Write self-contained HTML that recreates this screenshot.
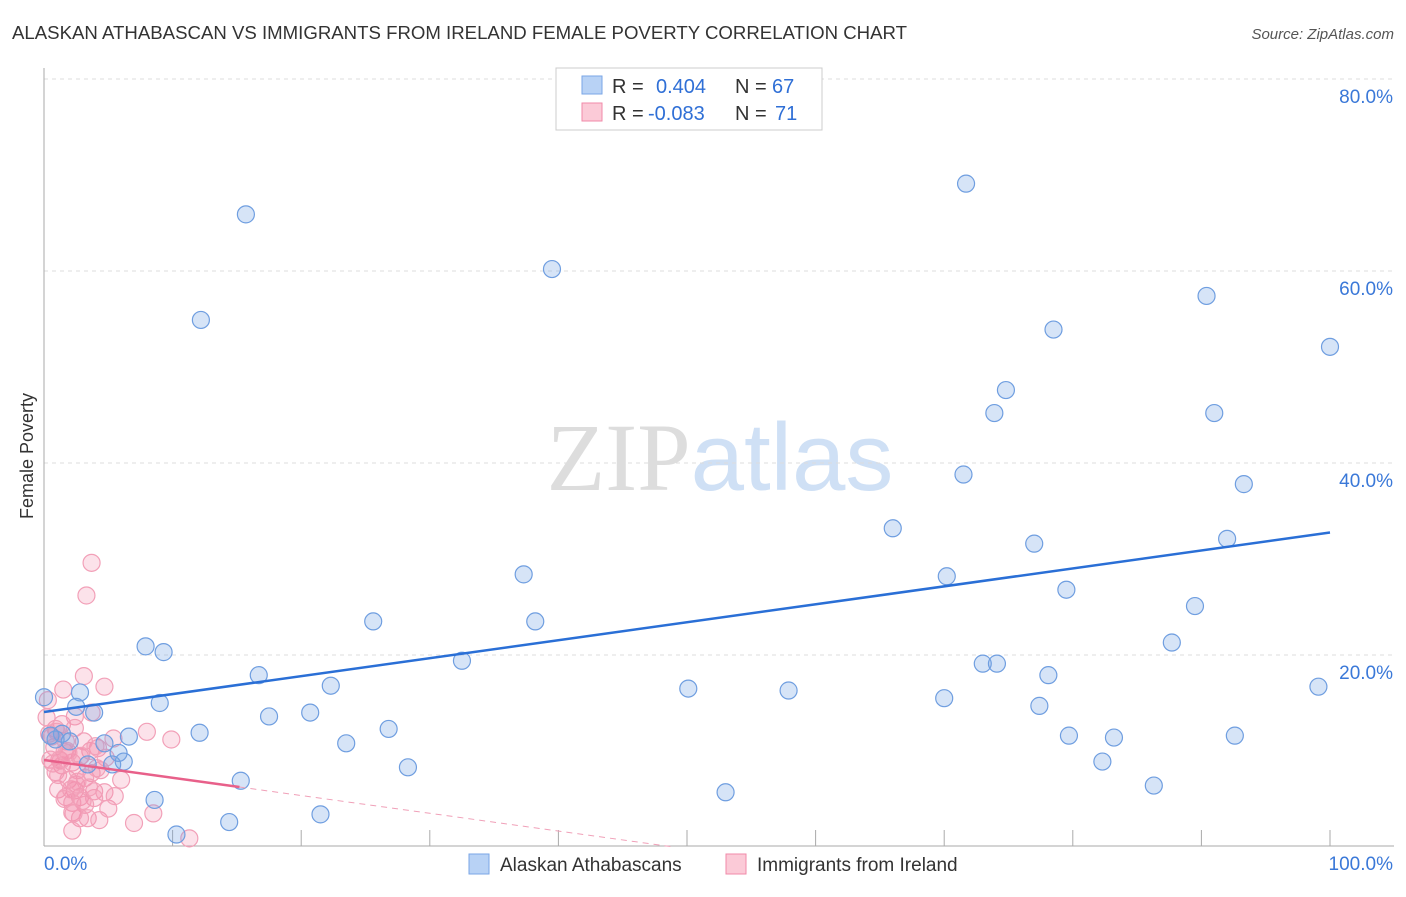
<!DOCTYPE html>
<html><head><meta charset="utf-8"><style>
body{margin:0;background:#fff;font-family:"Liberation Sans",sans-serif}
svg text{font-family:"Liberation Sans",sans-serif}
</style></head><body>
<svg id="chart" width="1406" height="892">
<text x="12" y="39" font-size="18" fill="#333" textLength="895" lengthAdjust="spacingAndGlyphs">ALASKAN ATHABASCAN VS IMMIGRANTS FROM IRELAND FEMALE POVERTY CORRELATION CHART</text>
<text x="1394" y="39" font-size="15" fill="#555" font-style="italic" text-anchor="end">Source: ZipAtlas.com</text>
<text x="33" y="456" font-size="18" fill="#333" transform="rotate(-90 33 456)" text-anchor="middle">Female Poverty</text>
<text x="720" y="490" font-size="96" text-anchor="middle"><tspan fill="#ddd" font-family="Liberation Serif">ZIP</tspan><tspan fill="#cfe0f5">atlas</tspan></text>
<g id="grid"></g><g id="marks"></g>
<g>
<rect x="556" y="68" width="266" height="62" fill="#fff" stroke="#ccc"/>
<rect x="582" y="76" width="20" height="18" fill="#b8d2f5" stroke="#7aa6e6"/>
<rect x="582" y="103" width="20" height="18" fill="#fbcad7" stroke="#f08aa8"/>
<text y="93" font-size="20" fill="#333"><tspan x="612">R =</tspan><tspan x="656" fill="#2f6fd6">0.404</tspan><tspan x="735">N =</tspan><tspan x="772" fill="#2f6fd6">67</tspan></text>
<text y="120" font-size="20" fill="#333"><tspan x="612">R =</tspan><tspan x="648" fill="#2f6fd6">-0.083</tspan><tspan x="735">N =</tspan><tspan x="775" fill="#2f6fd6">71</tspan></text>
</g>
<g>
<rect x="469" y="854" width="20" height="20" fill="#b8d2f5" stroke="#7aa6e6"/>
<text x="500" y="871" font-size="19" fill="#333">Alaskan Athabascans</text>
<rect x="726" y="854" width="20" height="20" fill="#fbcad7" stroke="#f08aa8"/>
<text x="757" y="871" font-size="19" fill="#333">Immigrants from Ireland</text>
</g>
</svg>
<script>
const xTicks=[0,100];
const yTicks=[20,40,60,80];
const blueX=[15.7,71.7,12.2,39.5,90.4,78.5,100,74.8,73.9,91,71.5,93.3,66,77,92,37.3,70.2,79.5,89.5,25.6,38.2,87.7,7.9,9.3,73,74.1,32.5,16.7,78.1,22.3,50.1,57.9,99.1,2.8,0,9,70,77.4,2.5,3.9,17.5,20.7,12.1,26.8,79.7,83.2,92.6,6.6,1.4,23.5,4.7,5.8,3.4,5.3,6.2,82.3,28.3,15.3,8.6,86.3,53,21.5,14.4,10.3,0.9,2,0.5];
const blueY=[65.9,69.1,54.9,60.2,57.4,53.9,52.1,47.6,45.2,45.2,38.8,37.8,33.2,31.6,32.1,28.4,28.2,26.8,25.1,23.5,23.5,21.3,20.9,20.3,19.1,19.1,19.4,17.9,17.9,16.8,16.5,16.3,16.7,16.1,15.6,15,15.5,14.7,14.6,14,13.6,14,11.9,12.3,11.6,11.4,11.6,11.5,11.8,10.8,10.8,9.8,8.6,8.6,8.9,8.9,8.3,6.9,4.9,6.4,5.7,3.4,2.6,1.3,11.2,11,11.6];
const pinkX=[3.7,3.3,3.1,4.7,1.5,0.3,3.7,2.4,1.4,2.4,0.9,5.4,4.2,9.9,3.6,0.8,1.6,2.8,0.5,1.2,4.8,2.2,3.7,3.2,1.9,1.1,2.4,3.9,4.7,1.7,2.8,3.9,2.2,3.2,8.5,2.2,3.4,2.8,4.3,2.2,11.3,1.4,2.6,0.9,4.4,1.7,0.6,1,3.1,0.2,2.1,2.5,1.6,5,8,6,1.8,2.9,4,1.3,0.7,3.5,5.5,2.6,1.9,4.1,3,2.3,1.1,0.4,7];
const pinkY=[29.6,26.2,17.8,16.7,16.4,15.3,14.0,13.6,12.8,12.4,12.3,11.3,10.3,11.2,10.0,10.4,9.9,9.4,9.1,9.1,9.3,8.8,7.7,7.2,7.0,6.0,5.9,5.8,5.7,5.2,5.2,5.1,4.6,4.4,3.5,3.6,3.0,3.0,2.8,1.7,0.9,8.5,8.0,7.8,8.0,11.0,11.5,12.0,11.0,13.5,6.0,6.5,5.0,4.0,12.0,7.0,10.0,9.5,10.5,9.0,8.7,6.2,5.3,6.8,9.8,8.2,4.8,3.5,7.5,11.8,2.5];
const blueTrend=[14.06,0.187];
const pinkTrend=[9.06,-0.185];
const X0=44,X1=1330,Y0=847,YPX=9.6;
const sx=v=>X0+(X1-X0)*v/100, sy=v=>Y0-v*YPX;
const NS="http://www.w3.org/2000/svg";
const grid=document.getElementById('grid'),marks=document.getElementById('marks');
function mk(tag,attrs,parent){const e=document.createElementNS(NS,tag);for(const k in attrs)e.setAttribute(k,attrs[k]);parent.appendChild(e);return e;}
yTicks.forEach(t=>{
 const l=mk('line',{x1:44,x2:1394,y1:sy(t),y2:sy(t),stroke:'#ddd','stroke-dasharray':'4 4'},grid);
 
 
 const tx=mk('text',{x:1393,y:sy(t)+24,'font-size':19,fill:'#3a78d8','text-anchor':'end'},grid);
 tx.textContent=t.toFixed(1)+'%';
 
 
});
mk('line',{x1:44,x2:44,y1:68,y2:846,stroke:'#aaa'},grid);
mk('line',{x1:44,x2:1394,y1:846,y2:846,stroke:'#aaa'},grid);
for(let i=1;i<=10;i++){const x=sx(i*10);mk('line',{x1:x,x2:x,y1:830,y2:846,stroke:'#aaa'},grid);}
xTicks.forEach(t=>{
 const tx=mk('text',{x:t==0?44:1393,y:870,'font-size':19,fill:'#3a78d8','text-anchor':t==0?'start':'end'},grid);
 tx.textContent=t.toFixed(1)+'%';
 
 
});
pinkX.forEach((x,i)=>{
 const c=mk('circle',{cx:sx(x),cy:sy(pinkY[i]),r:8.5,fill:'rgba(245,140,170,0.25)',stroke:'#f2a0b8','stroke-width':1.2},marks);
 
 
});
blueX.forEach((x,i)=>{
 const c=mk('circle',{cx:sx(x),cy:sy(blueY[i]),r:8.5,fill:'rgba(120,165,230,0.3)',stroke:'#6f9ee0','stroke-width':1.2},marks);
 
 
});
let [a,b]=blueTrend;
let l=mk('line',{x1:sx(0),y1:sy(a),x2:sx(100),y2:sy(a+b*100),stroke:'#2a6fd6','stroke-width':2.5},marks);


[a,b]=pinkTrend;
l=mk('line',{x1:sx(0),y1:sy(a),x2:sx(15.2),y2:sy(a+b*15.2),stroke:'#e8608a','stroke-width':2.5},marks);


const xEnd=Math.min(100,-a/b);
l=mk('line',{x1:sx(15.2),y1:sy(a+b*15.2),x2:sx(xEnd),y2:sy(a+b*xEnd),stroke:'#f0a0b8','stroke-width':1,'stroke-dasharray':'6 5'},marks);


</script>
</body></html>
